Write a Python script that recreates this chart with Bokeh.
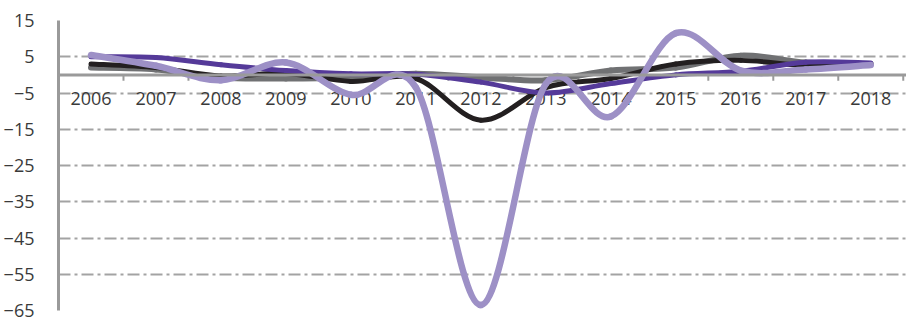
from bokeh.plotting import figure
from bokeh.models import Range1d, FixedTicker, Span, ColumnDataSource
from bokeh.core.properties import value
from bokeh.embed import file_html
from bokeh.resources import INLINE

years = ["2006", "2007", "2008", "2009", "2010", "2011", "2012",
         "2013", "2014", "2015", "2016", "2017", "2018"]
y_ticks = [15, 5, -5, -15, -25, -35, -45, -55, -65]

series_gray = [2.0, 1.5, -0.7, -1.0, -0.7, 0.3, -0.7, -1.5, 1.2, 2.0, 5.3, 3.4, 3.0]
series_black = [3.0, 2.0, -0.3, 0.4, -1.8, -1.0, -12.5, -3.5, -1.0, 3.0, 4.0, 2.6, 3.0]
series_dark = [5.0, 4.8, 2.8, 1.2, 0.3, 0.2, -2.0, -5.0, -2.4, 0.0, 1.0, 3.5, 3.3]
series_light = [5.5, 2.5, -1.5, 3.4, -5.5, -3.5, -63.5, -2.5, -11.5, 11.5, 1.2, 1.5, 2.7]

FONT = "Open Sans"
TEXT_COLOR = "#3a3a3a"

n = len(years)
xs = [i + 0.5 for i in range(n)]

p = figure(width=906, height=317, output_backend="svg", toolbar_location=None,
           x_range=Range1d(0, 13.05), y_range=Range1d(-65, 15),
           min_border_left=49, min_border_right=0, min_border_top=20,
           min_border_bottom=7)
p.outline_line_color = None
p.background_fill_color = "white"
p.border_fill_color = "white"
p.xaxis.visible = False
p.xgrid.visible = False

p.yaxis.ticker = FixedTicker(ticks=y_ticks)
p.yaxis.major_tick_line_color = None
p.yaxis.minor_tick_line_color = None
p.yaxis.axis_line_color = "#9a9a9a"
p.yaxis.axis_line_width = 3
p.yaxis.major_label_standoff = 18
p.yaxis.major_label_text_font = FONT
p.yaxis.major_label_text_font_size = "18px"
p.yaxis.major_label_text_color = TEXT_COLOR

p.ygrid.ticker = FixedTicker(ticks=y_ticks)
p.ygrid.grid_line_color = "#a3a3a3"
p.ygrid.grid_line_width = 2
p.ygrid.grid_line_dash = "12 4 3 4"

# zero axis line
p.add_layout(Span(location=0, dimension="width", line_color="#9a9a9a", line_width=3))

# category boundary ticks
bounds = list(range(1, n + 1))
p.segment(x0=bounds, y0=[0] * len(bounds), x1=bounds, y1=[-1.6] * len(bounds),
          line_color="#9a9a9a", line_width=2)

# category labels
p.text(x=xs, y=[0] * n, text=years, text_font=value(FONT), text_font_size="18px",
       text_color=TEXT_COLOR, text_align="center", text_baseline="middle", y_offset=24)


def smooth(vals):
    x0, y0, x1, y1, cx0, cy0, cx1, cy1 = [], [], [], [], [], [], [], []
    m = len(vals)
    for i in range(m - 1):
        pa = (xs[max(i - 1, 0)], vals[max(i - 1, 0)])
        p0 = (xs[i], vals[i])
        p1 = (xs[i + 1], vals[i + 1])
        pb = (xs[min(i + 2, m - 1)], vals[min(i + 2, m - 1)])
        x0.append(p0[0]); y0.append(p0[1])
        x1.append(p1[0]); y1.append(p1[1])
        cx0.append(p0[0] + (p1[0] - pa[0]) / 6.0)
        cy0.append(p0[1] + (p1[1] - pa[1]) / 6.0)
        cx1.append(p1[0] - (pb[0] - p0[0]) / 6.0)
        cy1.append(p1[1] - (pb[1] - p0[1]) / 6.0)
    return ColumnDataSource(dict(x0=x0, y0=y0, x1=x1, y1=y1,
                                 cx0=cx0, cy0=cy0, cx1=cx1, cy1=cy1))


for vals, color, w in [(series_gray, "#707173", 6),
                       (series_black, "#231f20", 5),
                       (series_dark, "#553a99", 5),
                       (series_light, "#9d90c6", 6.5)]:
    p.bezier(x0="x0", y0="y0", x1="x1", y1="y1", cx0="cx0", cy0="cy0",
             cx1="cx1", cy1="cy1", source=smooth(vals), line_color=color,
             line_width=w, line_cap="round")

open("out.html", "w").write(file_html(p, INLINE))
